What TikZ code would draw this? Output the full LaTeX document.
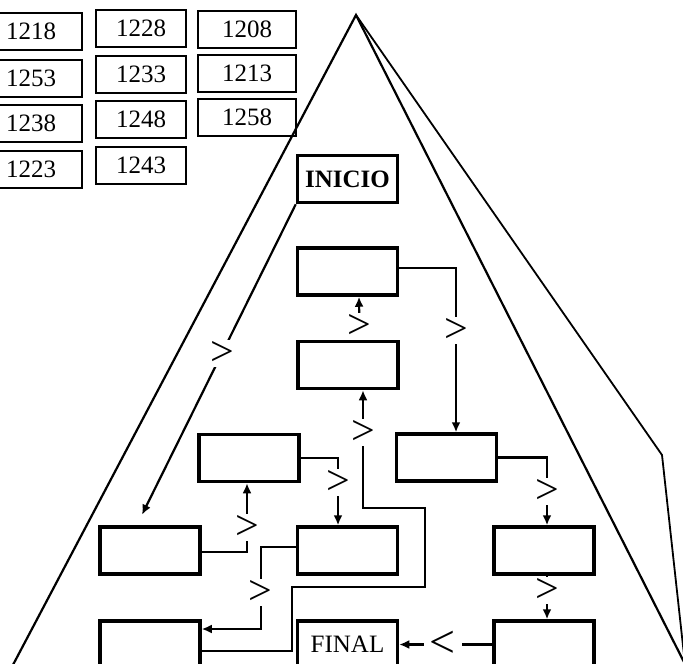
\documentclass[tikz,border=0pt]{standalone}
\usepackage{fontspec}
\setmainfont{Liberation Serif}
\usepackage{tikz}
\usetikzlibrary{arrows.meta}
\tikzset{my box/.style = {draw, line width=3.5pt, minimum width=100pt,
    minimum height=47pt, inner sep=0pt, font=\fontsize{25}{25}\selectfont},
  num box/.style = {draw, line width=2pt, minimum height=37pt, inner sep=0pt,
    font=\fontsize{25}{25}\selectfont},
  my flow/.style = {line width=2.2pt, -{Latex[length=10pt,width=9pt]}},
  gt/.style = {fill=white, inner sep=1.5pt, font=\fontsize{42}{42}\selectfont}}

\begin{document}
\begin{tikzpicture}[x=1pt,y=-1pt]
  \useasboundingbox (0,0) rectangle (683,664);
  \clip (0,0) rectangle (683,664);
  % pyramid
  \coordinate (top) at (356,15);
  \draw[line width=2.2pt] (5,680) -- (top) -- (685,664);
  \draw[line width=1.8pt] (top) -- (662,455) -- (685,664);
  % numbers
  \node[num box, minimum width=102pt] (n1218) at (31,31.5) {1218};
  \node[num box, minimum width=102pt] (n1253) at (31,78) {1253};
  \node[num box, minimum width=102pt] (n1238) at (31,123) {1238};
  \node[num box, minimum width=102pt] (n1223) at (31,169) {1223};
  \node[num box, minimum width=90pt] (n1228) at (141,28.5) {1228};
  \node[num box, minimum width=90pt] (n1233) at (141,74.5) {1233};
  \node[num box, minimum width=90pt] (n1248) at (141,119.5) {1248};
  \node[num box, minimum width=90pt] (n1243) at (141,165) {1243};
  \node[num box, minimum width=98pt] (n1208) at (247,29.5) {1208};
  \node[num box, minimum width=98pt] (n1213) at (247,73) {1213};
  \node[num box, minimum width=98pt] (n1258) at (247,117) {1258};
  % boxes
  \node[my box, font=\fontsize{25}{25}\selectfont\bfseries] (ini) at (347.5,179) {INICIO};
  \node[my box] (A) at (347.5,271.5) {};
  \node[my box] (B) at (348,365) {};
  \node[my box] (C) at (446.5,457.5) {};
  \node[my box] (D) at (249,458) {};
  \node[my box] (E) at (150,550.5) {};
  \node[my box] (F) at (347.5,550.5) {};
  \node[my box] (G) at (544,550.5) {};
  \node[my box] (H) at (150,644.5) {};
  \node[my box] (fin) at (347.5,644.5) {FINAL};
  \node[my box] (I) at (544,644.5) {};
  % flow
  \draw[my flow] (ini.south west) -- node[gt, pos=0.48] {>} ([xshift=-8pt,yshift=10.5pt]E.north);
  \draw[my flow] ([yshift=3.5pt]A.east) -| node[gt, pos=0.69] {>} ([xshift=9.5pt]C.north);
  \draw[my flow] ([xshift=11.5pt]B.north) -- node[gt, pos=0.3] {>} ([xshift=11.5pt]A.south);
  \draw[my flow] ([yshift=-6.5pt]H.east) -| ++(90,-64) -| ++(133,-79)
    -| node[gt, pos=0.82] {>} ([xshift=15pt]B.south);
  \draw[my flow] ([yshift=-1.5pt]E.east) -| node[gt, pos=0.68] {>} ([xshift=-2pt]D.south);
  \draw[my flow] (D.east) -| node[gt, pos=0.68] {>} ([xshift=-9.5pt]F.north);
  \draw[my flow] ([yshift=3.5pt]F.west) -- ++(-35,0)
    |- node[gt, pos=0.28] {>} ([yshift=15.5pt]H.east);
  \draw[my flow] (C.east) -| node[gt, pos=0.75] {>} ([xshift=3pt]G.north);
  \draw[my flow] ([xshift=3pt]G.south) -- node[gt, pos=0.33] {>} ([xshift=3pt]I.north);
  \draw[my flow] (I.west) -- node[gt, pos=0.53, inner xsep=6pt,
    font=\fontsize{46}{46}\selectfont] {<} (fin.east);
\end{tikzpicture}
\end{document}
